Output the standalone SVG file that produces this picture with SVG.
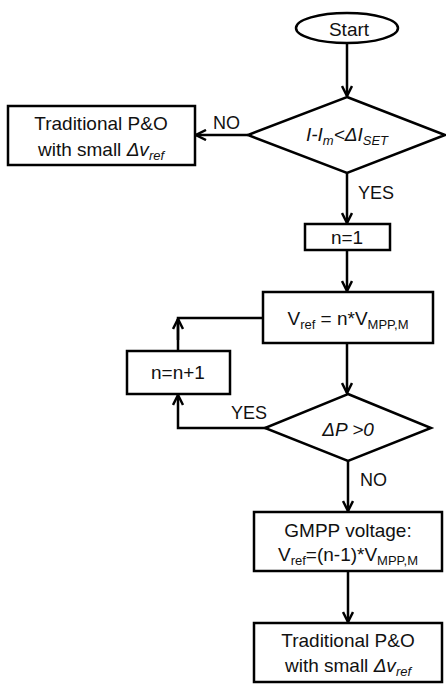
<svg xmlns="http://www.w3.org/2000/svg" width="446" height="686" viewBox="0 0 446 686">
<style>
.s{fill:#fff;stroke:#000;stroke-width:2.5}
.c{fill:none;stroke:#000;stroke-width:2.5}
.t{font-family:"Liberation Sans",Arial,sans-serif;font-size:19px;fill:#111;text-anchor:middle}
.i{font-style:italic}
.l{font-family:"Liberation Sans",Arial,sans-serif;font-size:18px;fill:#111}
</style>
<defs>
<marker id="a" viewBox="0 0 12 12" refX="11" refY="6" markerWidth="12" markerHeight="12" markerUnits="userSpaceOnUse" orient="auto">
<path d="M1,1 L11,6 L1,11" fill="none" stroke="#000" stroke-width="2.5"/>
</marker>
</defs>
<g id="connectors">
<path class="c" d="M347,43 V96" marker-end="url(#a)"/>
<path class="c" d="M248,135 H196" marker-end="url(#a)"/>
<path class="c" d="M347,173 V223" marker-end="url(#a)"/>
<path class="c" d="M347,250 V291" marker-end="url(#a)"/>
<path class="c" d="M347,343 V393" marker-end="url(#a)"/>
<path class="c" d="M263,318 H178 V351"/>
<path class="c" d="M178,340 V319" marker-end="url(#a)"/>
<path class="c" d="M266,428 H178 V395" marker-end="url(#a)"/>
<path class="c" d="M348,461 V511" marker-end="url(#a)"/>
<path class="c" d="M348,571 V622" marker-end="url(#a)"/>
<text class="l" x="213" y="129">NO</text>
<text class="l" x="358" y="199">YES</text>
<text class="l" x="231" y="419">YES</text>
<text class="l" x="360" y="486">NO</text>
</g>
<g id="start">
<ellipse class="s" cx="347" cy="28" rx="51" ry="15"/>
<text class="t" x="349" y="36" font-size="21">Start</text>
</g>
<g id="dec1">
<path class="s" d="M347,97 L445,135 L347,173 L248,135 Z"/>
<text class="t i" x="347" y="141">I-I<tspan font-size="13" dy="4">m</tspan><tspan dy="-4">&lt;ΔI</tspan><tspan font-size="13" dy="4">SET</tspan></text>
</g>
<g id="po1">
<rect class="s" x="8" y="106" width="187" height="59"/>
<text class="t" x="101" y="130">Traditional P&amp;O</text>
<text class="t" x="101" y="156">with small <tspan class="i">Δv</tspan><tspan class="i" font-size="13" dy="4">ref</tspan></text>
</g>
<g id="n1">
<rect class="s" x="305" y="224" width="85" height="26"/>
<text class="t" x="347" y="244">n=1</text>
</g>
<g id="vref">
<rect class="s" x="263" y="292" width="170" height="51"/>
<text class="t" x="348" y="325">V<tspan font-size="13" dy="4">ref</tspan><tspan dy="-4"> = n*V</tspan><tspan font-size="13" dy="4">MPP,M</tspan></text>
</g>
<g id="inc">
<rect class="s" x="127" y="351" width="103" height="43"/>
<text class="t" x="178" y="379">n=n+1</text>
</g>
<g id="dec2">
<path class="s" d="M348,394 L431,428 L348,461 L265,428 Z"/>
<text class="t i" x="348" y="436" font-size="24">ΔP &gt;0</text>
</g>
<g id="gmpp">
<rect class="s" x="254" y="512" width="188" height="59"/>
<text class="t" x="348" y="537">GMPP voltage:</text>
<text class="t" x="348" y="561">V<tspan font-size="13" dy="4">ref</tspan><tspan dy="-4">=(n-1)*V</tspan><tspan font-size="13" dy="4">MPP,M</tspan></text>
</g>
<g id="po2">
<rect class="s" x="254" y="623" width="188" height="59"/>
<text class="t" x="348" y="647">Traditional P&amp;O</text>
<text class="t" x="348" y="672">with small <tspan class="i">Δv</tspan><tspan class="i" font-size="13" dy="4">ref</tspan></text>
</g>
</svg>
